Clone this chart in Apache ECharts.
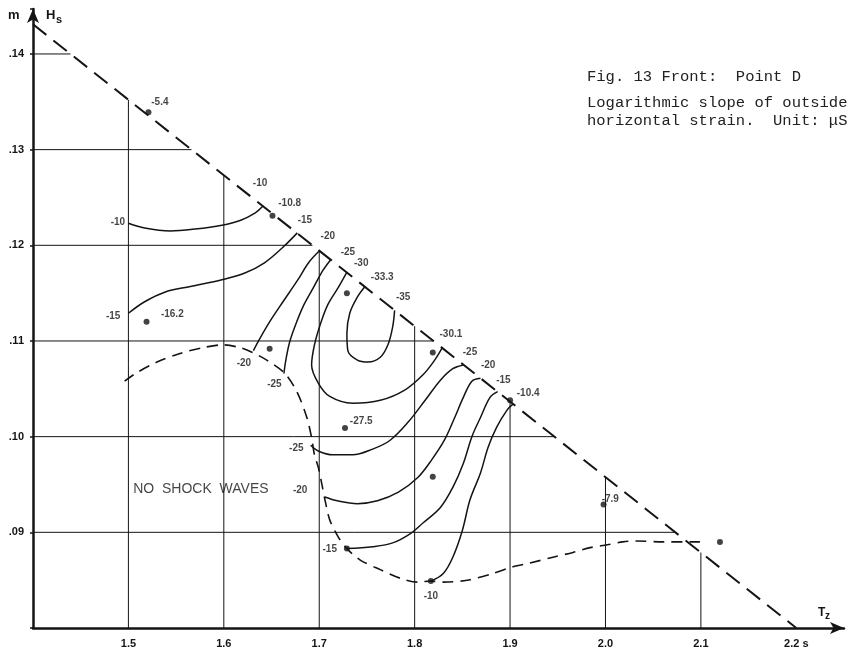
<!DOCTYPE html>
<html>
<head>
<meta charset="utf-8">
<script src="https://cdn.jsdelivr.net/npm/echarts/dist/echarts.min.js"></script>
<style>
  html, body { margin: 0; padding: 0; background: #fff; }
  #main { width: 849px; height: 657px; }
</style>
</head>
<body>
<div id="main"></div>
<script>
// axis ticks
const xTicks = [1.5, 1.6, 1.7, 1.8, 1.9, 2.0, 2.1, 2.2];
const xTickLabels = ['1.5', '1.6', '1.7', '1.8', '1.9', '2.0', '2.1', '2.2 s'];
const yTicks = [0.09, 0.10, 0.11, 0.12, 0.13, 0.14];
const yTickLabels = ['.09', '.10', '.11', '.12', '.13', '.14'];

// limiting (breaking) line, Hs vs Tz
const limitLine = [[1.4, 0.1431], [2.2, 0.08]];

// contour lines, upper left group
const iso10a = [[1.500, 0.1223], [1.517, 0.1218], [1.544, 0.1215], [1.570, 0.1217], [1.598, 0.1221], [1.617, 0.1226], [1.633, 0.1234], [1.641, 0.1241]];
const iso15a = [[1.500, 0.1129], [1.517, 0.1141], [1.538, 0.1151], [1.565, 0.1157], [1.598, 0.1164], [1.622, 0.1171], [1.643, 0.1182], [1.662, 0.1198], [1.677, 0.1213]];
const iso20a = [[1.631, 0.1090], [1.638, 0.1103], [1.648, 0.1120], [1.662, 0.1141], [1.677, 0.1163], [1.689, 0.1182], [1.700, 0.1194]];
const iso25a = [[1.712, 0.1185], [1.704, 0.1174], [1.694, 0.1156], [1.684, 0.1138], [1.676, 0.1119], [1.669, 0.1099], [1.665, 0.1080], [1.663, 0.1066]];
const iso30 = [[1.729, 0.1172], [1.720, 0.1156], [1.709, 0.1138], [1.701, 0.1117], [1.695, 0.1096], [1.692, 0.1075], [1.699, 0.1056], [1.711, 0.1042], [1.735, 0.1035], [1.764, 0.1038], [1.790, 0.1049], [1.809, 0.1065], [1.821, 0.1080], [1.829, 0.1093]];
const iso35 = [[1.748, 0.1157], [1.740, 0.1146], [1.732, 0.1129], [1.729, 0.1108], [1.730, 0.1090], [1.740, 0.1080], [1.751, 0.1078], [1.764, 0.1083], [1.772, 0.1096], [1.777, 0.1115], [1.779, 0.1132]];
// lower right group
const iso25b = [[1.851, 0.1075], [1.840, 0.1071], [1.827, 0.1059], [1.811, 0.1038], [1.793, 0.1015], [1.774, 0.0996], [1.756, 0.0987], [1.735, 0.0981], [1.714, 0.0981], [1.699, 0.0985], [1.691, 0.0991]];
const iso20b = [[1.869, 0.1061], [1.860, 0.1058], [1.851, 0.1041], [1.842, 0.1020], [1.831, 0.0996], [1.818, 0.0976], [1.803, 0.0957], [1.783, 0.0942], [1.761, 0.0933], [1.740, 0.0930], [1.719, 0.0933], [1.706, 0.0937]];
const iso15b = [[1.887, 0.1047], [1.879, 0.1041], [1.869, 0.1020], [1.860, 0.1000], [1.851, 0.0972], [1.840, 0.0947], [1.827, 0.0926], [1.809, 0.0910], [1.796, 0.0899], [1.777, 0.0889], [1.756, 0.0885], [1.729, 0.0883]];
const iso10b = [[1.903, 0.1034], [1.897, 0.1028], [1.886, 0.1010], [1.877, 0.0989], [1.869, 0.0962], [1.858, 0.0934], [1.850, 0.0902], [1.840, 0.0874], [1.830, 0.0857], [1.817, 0.0849]];

// limit of the shock wave region (dashed)
const noShock = [[1.496, 0.1058], [1.509, 0.1067], [1.530, 0.1078], [1.554, 0.1087], [1.578, 0.1093], [1.599, 0.1096], [1.617, 0.1093], [1.630, 0.1088], [1.645, 0.1080], [1.664, 0.1066], [1.677, 0.1046], [1.687, 0.1020], [1.692, 0.0999], [1.695, 0.0981], [1.699, 0.0968], [1.703, 0.0949], [1.706, 0.0934], [1.711, 0.0913], [1.720, 0.0895], [1.729, 0.0883], [1.743, 0.0871], [1.764, 0.0861], [1.785, 0.0852], [1.803, 0.0848], [1.817, 0.0849], [1.830, 0.0848], [1.855, 0.0850], [1.882, 0.0857], [1.903, 0.0864], [1.921, 0.0868], [1.945, 0.0874], [1.966, 0.0879], [1.984, 0.0884], [2.002, 0.0887], [2.018, 0.0890], [2.033, 0.0891], [2.060, 0.0890], [2.099, 0.0890]];

// measured points
const measured = [[1.521, 0.1339], [1.651, 0.1231], [1.519, 0.1120], [1.648, 0.1092], [1.729, 0.1150], [1.819, 0.1088], [1.900, 0.1038], [1.727, 0.1009], [1.819, 0.0958], [1.998, 0.0929], [1.729, 0.0883], [1.817, 0.0849], [2.120, 0.0890]];

// values written on the chart [Tz, Hs, text]
const tags = [
  [1.533, 0.1350, '-5.4'], [1.669, 0.1244, '-10.8'], [1.546, 0.1128, '-16.2'], [1.766, 0.1167, '-33.3'],
  [1.838, 0.1107, '-30.1'], [1.919, 0.1045, '-10.4'], [1.744, 0.1016, '-27.5'], [2.005, 0.0935, '-7.9'],
  [1.638, 0.1265, '-10'], [1.489, 0.1224, '-10'], [1.484, 0.1126, '-15'], [1.685, 0.1226, '-15'],
  [1.709, 0.1209, '-20'], [1.730, 0.1193, '-25'], [1.744, 0.1181, '-30'], [1.788, 0.1146, '-35'],
  [1.858, 0.1088, '-25'], [1.877, 0.1075, '-20'], [1.893, 0.1059, '-15'],
  [1.621, 0.1077, '-20'], [1.653, 0.1055, '-25'], [1.676, 0.0988, '-25'], [1.680, 0.0944, '-20'],
  [1.711, 0.0882, '-15'], [1.817, 0.0833, '-10']
];
const regionTag = [[1.576, 0.0945, 'NO  SHOCK  WAVES']];

// helpers for the limit line
function limitY(x) {
  const [[x0, y0], [x1, y1]] = limitLine;
  return y0 + (x - x0) * (y1 - y0) / (x1 - x0);
}
function limitX(y) {
  const [[x0, y0], [x1, y1]] = limitLine;
  return x0 + (y - y0) * (x1 - x0) / (y1 - y0);
}
function pick(v, ticks, labels) {
  for (let i = 0; i < ticks.length; i++) {
    if (Math.abs(v - ticks[i]) < 1e-6) return labels[i];
  }
  return '';
}

const ink = '#141414';
const tickFont = 'Liberation Sans';
const typeFont = 'Liberation Mono';

function seg(data, width, dash, smooth) {
  return {
    type: 'line', data: data, symbol: 'none', silent: true, smooth: smooth || false,
    lineStyle: { color: ink, width: width, type: dash || 'solid' }, z: 2
  };
}

const series = [];
// grid lines stop at the limit line
xTicks.filter(x => x < 2.2).forEach(x => {
  series.push(seg([[x, 0.08], [x, limitY(x)]], 1));
});
yTicks.forEach(y => {
  series.push(seg([[1.4, y], [limitX(y), y]], 1));
});
series.push(seg(limitLine, 2, [17, 9]));
series.push(seg(noShock, 1.6, [11, 7], 0.3));
[iso10a, iso15a, iso20a, iso25a, iso30, iso35, iso25b, iso20b, iso15b, iso10b].forEach(c => {
  series.push(seg(c, 1.5, 'solid', 0.35));
});
series.push({
  type: 'scatter', data: measured, symbol: 'circle', symbolSize: 6, silent: true,
  itemStyle: { color: ink }, z: 4
});
series.push({
  type: 'scatter', data: tags, symbolSize: 1, silent: true, itemStyle: { color: 'rgba(0,0,0,0)' },
  label: {
    show: true, position: 'inside', formatter: p => p.value[2],
    color: ink, fontFamily: tickFont, fontSize: 10, fontWeight: 'bold'
  }, z: 5
});
series.push({
  type: 'scatter', data: regionTag, symbolSize: 1, silent: true, itemStyle: { color: 'rgba(0,0,0,0)' },
  label: {
    show: true, position: 'inside', formatter: p => p.value[2],
    color: ink, fontFamily: tickFont, fontSize: 14
  }, z: 5
});

const chart = echarts.init(document.getElementById('main'));
chart.setOption({
  animation: false,
  backgroundColor: '#fff',
  title: {
    text: 'Fig. 13 Front:  Point D',
    subtext: 'Logarithmic slope of outside\nhorizontal strain.  Unit: μS',
    left: 587, top: 68, itemGap: 8, padding: 0,
    textStyle: { fontFamily: typeFont, fontSize: 15.5, fontWeight: 'normal', color: '#222', lineHeight: 18 },
    subtextStyle: { fontFamily: typeFont, fontSize: 15.5, color: '#222', lineHeight: 18 }
  },
  grid: { left: 33, right: 5, top: 9, bottom: 29 },
  xAxis: {
    type: 'value', min: 1.4, max: 2.25, interval: 0.1,
    axisLine: { show: true, lineStyle: { color: ink, width: 2.5 }, symbol: ['none', 'arrow'], symbolSize: [9, 14] },
    axisTick: { show: false },
    splitLine: { show: false },
    axisLabel: {
      formatter: v => pick(v, xTicks, xTickLabels), margin: 10,
      color: ink, fontFamily: tickFont, fontSize: 11, fontWeight: 'bold'
    }
  },
  yAxis: {
    type: 'value', min: 0.08, max: 0.1447, interval: 0.01,
    axisLine: { show: true, lineStyle: { color: ink, width: 2.5 }, symbol: ['none', 'arrow'], symbolSize: [9, 14] },
    axisTick: { show: true, length: 3, lineStyle: { color: ink, width: 1.5 } },
    splitLine: { show: false },
    axisLabel: {
      formatter: v => pick(v, yTicks, yTickLabels), margin: 9,
      color: ink, fontFamily: tickFont, fontSize: 11, fontWeight: 'bold'
    }
  },
  graphic: [
    { type: 'text', left: 8, top: 9, style: { text: 'm', fill: ink, font: 'bold 13px "Liberation Sans"' } },
    { type: 'text', left: 46, top: 9, style: { text: 'H', fill: ink, font: 'bold 13px "Liberation Sans"' } },
    { type: 'text', left: 56, top: 14, style: { text: 's', fill: ink, font: 'bold 11px "Liberation Sans"' } },
    { type: 'text', left: 818, top: 607, style: { text: 'T', fill: ink, font: 'bold 12px "Liberation Sans"' } },
    { type: 'text', left: 825, top: 611, style: { text: 'z', fill: ink, font: 'bold 10px "Liberation Sans"' } }
  ],
  series: series
});
</script>
</body>
</html>
